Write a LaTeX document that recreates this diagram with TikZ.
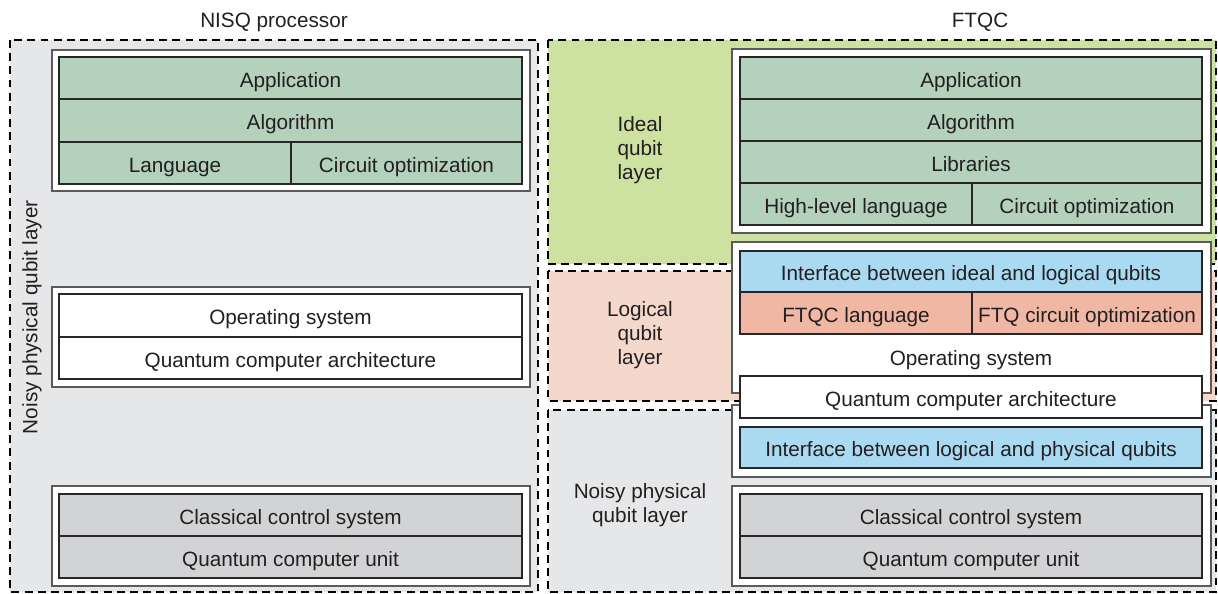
\documentclass[tikz,border=0pt]{standalone}
\usepackage{fontspec}
\setmainfont{Liberation Sans}
\usepackage{tikz}

\definecolor{bggray}{RGB}{230,231,232}
\definecolor{idealgreen}{RGB}{205,225,160}
\definecolor{logicpink}{RGB}{245,216,204}
\definecolor{cellgreen}{RGB}{180,209,188}
\definecolor{cellsalmon}{RGB}{240,184,164}
\definecolor{cellblue}{RGB}{170,218,242}
\definecolor{cellgray}{RGB}{210,211,213}
\definecolor{linec}{RGB}{40,38,38}
\definecolor{framec}{RGB}{90,90,90}
\definecolor{textc}{RGB}{35,31,32}

\begin{document}
\begin{tikzpicture}[x=0.02cm, y=-0.02cm, font=\fontsize{11.8}{13.6}\selectfont,
	layer/.style={line width=1.1pt, dash pattern=on 4.5pt off 3pt},
	frame/.style={draw=framec, line width=0.8pt, fill=white},
	cell/.style={draw=linec, line width=0.7pt},
	lbl/.style={text height=8.4pt, text depth=0pt, inner sep=0pt, text=textc, yshift=-1.2pt}]
	%\draw[help lines, thick] (0,0) grid[step=50] (1218,594);
	\useasboundingbox (0,0) rectangle (1218,594);
	\node[lbl] (nisq) at (274,18) {NISQ processor};
	\node[lbl] (ftqc) at (980,18) {FTQC};

	% NISQ side
	\draw[layer, fill=bggray] (10,40) rectangle (538,592);
	\node[lbl, rotate=90, yshift=1.2pt] (noisyL) at (32,315) {Noisy physical qubit layer};

	\draw[frame] (52,50) rectangle (530,191);
	\draw[cell, fill=cellgreen] (59,57) rectangle (522,99);
	\draw[cell, fill=cellgreen] (59,99) rectangle (522,142);
	\draw[cell, fill=cellgreen] (59,142) rectangle (291,184);
	\draw[cell, fill=cellgreen] (291,142) rectangle (522,184);
	\node[lbl] (appL) at (290.5,78) {Application};
	\node[lbl] (algL) at (290.5,120.5) {Algorithm};
	\node[lbl] (langL) at (175,163) {Language};
	\node[lbl] (coptL) at (406.5,163) {Circuit optimization};

	\draw[frame] (52,287) rectangle (530,387);
	\draw[cell, fill=white] (59,294) rectangle (522,337);
	\draw[cell, fill=white] (59,337) rectangle (522,379);
	\node[lbl] (osL) at (290.5,315.5) {Operating system};
	\node[lbl] (qcaL) at (290.5,358) {Quantum computer architecture};

	\draw[frame] (52,486) rectangle (530,586);
	\draw[cell, fill=cellgray] (59,494) rectangle (522,536);
	\draw[cell, fill=cellgray] (59,536) rectangle (522,578);
	\node[lbl] (ccsL) at (290.5,515) {Classical control system};
	\node[lbl] (qcuL) at (290.5,557) {Quantum computer unit};

	% FTQC side
	\draw[layer, fill=idealgreen] (548,40) rectangle (1216,264);
	\draw[layer, fill=logicpink] (548,271) rectangle (1216,401);
	\draw[layer, fill=bggray] (548,410) rectangle (1216,592);
	\node[lbl, align=center] (ideal) at (640,170) {Ideal\\qubit\\layer};
	\node[lbl, align=center] (logical) at (640,355) {Logical\\qubit\\layer};
	\node[lbl, align=center] (noisyR) at (640,513) {Noisy physical\\qubit layer};

	\draw[frame] (732,49) rectangle (1211,233);
	\draw[cell, fill=cellgreen] (740,57) rectangle (1202,99);
	\draw[cell, fill=cellgreen] (740,99) rectangle (1202,141);
	\draw[cell, fill=cellgreen] (740,141) rectangle (1202,183);
	\draw[cell, fill=cellgreen] (740,183) rectangle (972,225);
	\draw[cell, fill=cellgreen] (972,183) rectangle (1202,225);
	\node[lbl] (appR) at (971,78) {Application};
	\node[lbl] (algR) at (971,120) {Algorithm};
	\node[lbl] (libR) at (971,162) {Libraries};
	\node[lbl] (hllR) at (856,204) {High-level language};
	\node[lbl] (coptR) at (1087,204) {Circuit optimization};

	\draw[frame] (732,242) rectangle (1211,393);
	\draw[cell, fill=cellblue] (740,251) rectangle (1202,292);
	\draw[cell, fill=cellsalmon] (740,292) rectangle (972,334);
	\draw[cell, fill=cellsalmon] (972,292) rectangle (1202,334);
	\node[lbl] (ifIL) at (971,271.5) {Interface between ideal and logical qubits};
	\node[lbl] (ftqcl) at (856,313) {FTQC language};
	\node[lbl] (ftqco) at (1087,313) {FTQ circuit optimization};
	\node[lbl] (osR) at (971,356) {Operating system};

	\draw[frame] (732,405) rectangle (1211,477);
	\draw[cell, fill=cellblue] (740,427) rectangle (1202,468);
	\node[lbl] (ifLP) at (971,447.5) {Interface between logical and physical qubits};
	\draw[cell, fill=white] (740,376) rectangle (1202,418);
	\node[lbl] (qcaR) at (971,397) {Quantum computer architecture};

	\draw[frame] (732,486) rectangle (1211,586);
	\draw[cell, fill=cellgray] (740,494) rectangle (1202,536);
	\draw[cell, fill=cellgray] (740,536) rectangle (1202,578);
	\node[lbl] (ccsR) at (971,515) {Classical control system};
	\node[lbl] (qcuR) at (971,557) {Quantum computer unit};
\end{tikzpicture}
\end{document}
